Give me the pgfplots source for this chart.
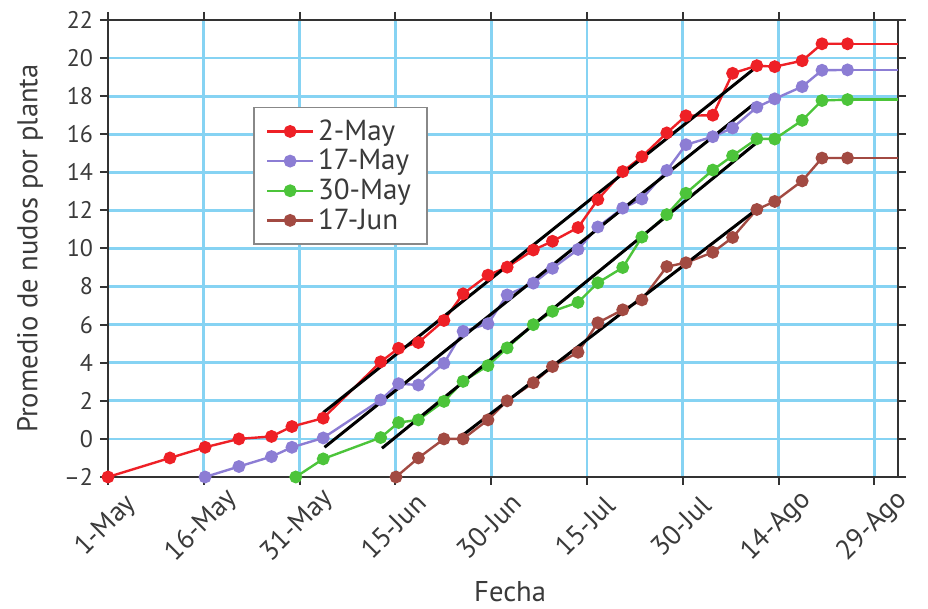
\documentclass[border=0pt]{standalone}
\usepackage{fontspec}
\setmainfont{PT Sans}
\usepackage{pgfplots}
\pgfplotsset{compat=1.18}
\definecolor{cred}{HTML}{EE2026}
\definecolor{cpurple}{HTML}{8C7DD4}
\definecolor{cgreen}{HTML}{4CC43A}
\definecolor{cbrown}{HTML}{A24A42}
\definecolor{gridblue}{HTML}{86D3F3}
\definecolor{axisgray}{HTML}{333333}
\definecolor{textgray}{HTML}{3A3A3A}
\definecolor{legendgray}{HTML}{888888}
\begin{document}
\begin{tikzpicture}
\begin{axis}[
  scale only axis, width=395pt, height=228.5pt,
  xmin=0, xmax=123.7, ymin=-2, ymax=22,
  xtick={0,15,...,120},
  xticklabels={1-May,16-May,31-May,15-Jun,30-Jun,15-Jul,30-Jul,14-Ago,29-Ago},
  ytick={-2,0,...,22},
  yticklabels={–2,0,2,4,6,8,10,12,14,16,18,20,22},
  grid=major, grid style={color=gridblue, line width=1.4pt},
  axis line style={color=axisgray, line width=1.4pt},
  tick style={color=axisgray, line width=1pt},
  tick align=outside, major tick length=4pt,
  tick label style={font=\fontsize{12}{14}\selectfont, color=textgray},
  xticklabel style={font=\fontsize{13.8}{15}\selectfont, yshift=-20.5pt, xshift=-1pt, rotate=45, anchor=center},
  label style={font=\fontsize{14.3}{16}\selectfont, color=textgray},
  ylabel={Promedio de nudos por planta},
  ylabel style={at={(axis description cs:-0.0987,0.5)}, anchor=center},
  xlabel={Fecha},
  xlabel style={at={(axis description cs:0.509,-0.2516)}, anchor=center},
  every axis plot/.append style={line width=1.2pt, mark=*, mark size=2.6pt},
  legend style={at={(0.184,0.81)}, anchor=north west, draw=legendgray, line width=0.8pt,
    font=\fontsize{14.5}{15}\selectfont, text=textgray, row sep=-1pt, inner xsep=6pt, inner ysep=4pt},
  legend cell align=left,
  legend image code/.code={\draw[mark repeat=2,mark phase=2,#1] plot coordinates {(0cm,0cm) (0.4cm,0cm) (0.8cm,0cm)};},
]
\addplot[cred, mark options={fill=cred}] coordinates {
(0,-2) (9.7,-1.0) (15.2,-0.44) (20.5,0.0) (25.6,0.13) (28.8,0.65) (33.7,1.09)
(42.7,4.05) (45.5,4.76) (48.6,5.06) (52.6,6.22) (55.6,7.62) (59.5,8.6) (62.5,9.02)
(66.6,9.92) (69.6,10.38) (73.6,11.1) (76.7,12.57) (80.6,14.04) (83.6,14.82)
(87.5,16.07) (90.5,16.97) (94.7,17.0) (97.8,19.2) (101.6,19.6) (104.4,19.55)
(108.7,19.86) (111.8,20.75) (115.8,20.75)};
\addlegendentry{2-May}
\addplot[cpurple, mark options={fill=cpurple}] coordinates {
(15.2,-2) (20.5,-1.45) (25.6,-0.93) (28.8,-0.44) (33.7,0.05)
(42.7,2.05) (45.5,2.9) (48.6,2.83) (52.6,3.97) (55.6,5.65) (59.5,6.05) (62.5,7.56)
(66.6,8.18) (69.6,8.96) (73.6,9.95) (76.7,11.13) (80.6,12.12) (83.6,12.6)
(87.5,14.1) (90.5,15.45) (94.7,15.87) (97.8,16.33) (101.6,17.42) (104.4,17.86)
(108.7,18.5) (111.8,19.36) (115.8,19.38)};
\addlegendentry{17-May}
\addplot[cgreen, mark options={fill=cgreen}] coordinates {
(29.4,-2) (33.7,-1.05)
(42.7,0.07) (45.5,0.86) (48.6,1.0) (52.6,1.97) (55.6,3.02) (59.5,3.85) (62.5,4.78)
(66.6,6.0) (69.6,6.7) (73.6,7.17) (76.7,8.2) (80.6,9.0) (83.6,10.6)
(87.5,11.78) (90.5,12.9) (94.7,14.12) (97.8,14.87) (101.6,15.76) (104.4,15.75)
(108.7,16.73) (111.8,17.77) (115.8,17.82)};
\addlegendentry{30-May}
\addplot[cbrown, mark options={fill=cbrown}] coordinates {
(45.1,-2) (48.6,-1.0) (52.6,0.0) (55.6,0.0) (59.5,1.0) (62.5,2.0)
(66.6,2.95) (69.6,3.8) (73.6,4.55) (76.7,6.1) (80.6,6.78) (83.6,7.3)
(87.5,9.05) (90.5,9.25) (94.7,9.8) (97.8,10.58) (101.6,12.05) (104.4,12.47)
(108.7,13.55) (111.8,14.75) (115.8,14.75)};
\addlegendentry{17-Jun}
\addplot[cred, no marks, forget plot] coordinates {(115.8,20.75) (123.7,20.75)};
\addplot[cpurple, no marks, forget plot] coordinates {(115.8,19.38) (123.7,19.38)};
\addplot[cgreen, no marks, forget plot] coordinates {(115.8,17.82) (123.7,17.82)};
\addplot[cbrown, no marks, forget plot] coordinates {(115.8,14.75) (123.7,14.75)};
\addplot[black, no marks, line width=1.5pt, forget plot] coordinates {(33.7,1.38) (101.6,19.55)};
\addplot[black, no marks, line width=1.5pt, forget plot] coordinates {(33.9,-0.44) (101.3,17.63)};
\addplot[black, no marks, line width=1.5pt, forget plot] coordinates {(42.9,-0.49) (101.8,15.62)};
\addplot[black, no marks, line width=1.5pt, forget plot] coordinates {(55.4,0.16) (101.6,12.06)};
\end{axis}
\pgfresetboundingbox
\path[use as bounding box] ([shift={(-54pt,-66pt)}]current axis.south west) rectangle ([shift={(15pt,10pt)}]current axis.north east);
\end{tikzpicture}
\end{document}
